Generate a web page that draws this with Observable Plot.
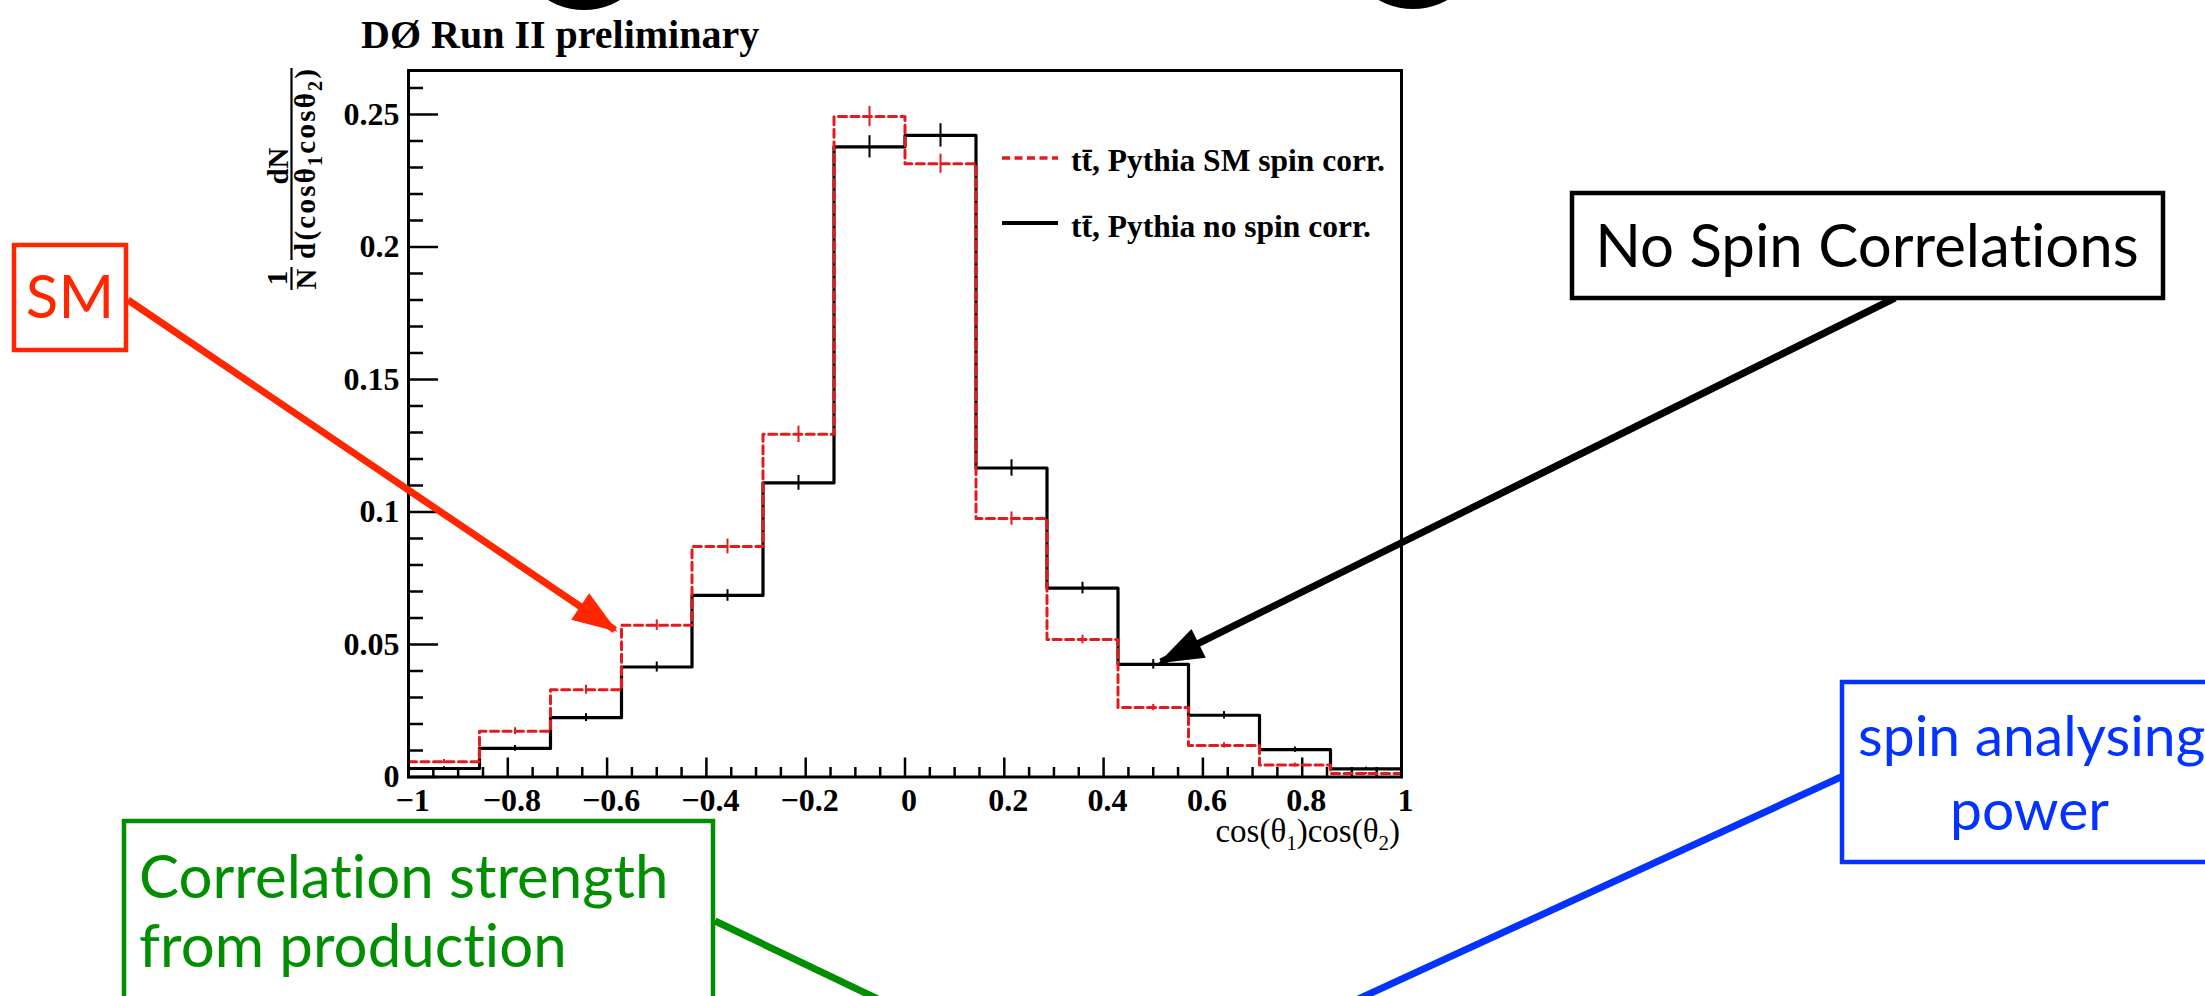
<!DOCTYPE html>
<html><head><meta charset="utf-8">
<script src="https://cdn.jsdelivr.net/npm/d3@7"></script>
<script src="https://cdn.jsdelivr.net/npm/@observablehq/plot@0.6"></script>
<style>
html,body{margin:0;padding:0;background:#fff;}
#wrap{position:relative;width:2205px;height:996px;overflow:hidden;background:#fff;}
#wrap > svg{position:absolute;left:0;top:0;}
text{font-variant-ligatures:none;font-feature-settings:"liga" 0, "clig" 0;}
</style></head><body><div id="wrap"></div>
<script>
// ---- data ----
const binEdges = [-1, -0.857, -0.714, -0.571, -0.429, -0.286, -0.143, 0, 0.143, 0.286, 0.429, 0.571, 0.714, 0.857, 1];
const smSpinCorr = [0.0058, 0.0173, 0.0329, 0.0573, 0.0870, 0.1293, 0.2492, 0.2314, 0.0975, 0.0519, 0.0262, 0.0119, 0.0045, 0.0013];
const noSpinCorr = [0.0032, 0.0108, 0.0224, 0.0415, 0.0685, 0.1110, 0.2378, 0.2421, 0.1166, 0.0713, 0.0425, 0.0233, 0.0103, 0.0031];
const smErr = [0.0008, 0.0013, 0.0017, 0.0020, 0.0028, 0.0031, 0.0038, 0.0036, 0.0025, 0.0016, 0.0012, 0.0010, 0.0007, 0.0004];
const noErr = [0.0007, 0.0011, 0.0015, 0.0019, 0.0022, 0.0028, 0.0042, 0.0044, 0.0031, 0.0022, 0.0018, 0.0014, 0.0010, 0.0006];
const xMajorTicks = [-1, -0.8, -0.6, -0.4, -0.2, 0, 0.2, 0.4, 0.6, 0.8, 1];
const xTickLabels = ["\u22121", "\u22120.8", "\u22120.6", "\u22120.4", "\u22120.2", "0", "0.2", "0.4", "0.6", "0.8", "1"];
const xMinorTicks = [-0.95,-0.9,-0.85,-0.75,-0.7,-0.65,-0.55,-0.5,-0.45,-0.35,-0.3,-0.25,-0.15,-0.1,-0.05,0.05,0.1,0.15,0.25,0.3,0.35,0.45,0.5,0.55,0.65,0.7,0.75,0.85,0.9,0.95];
const yMajorTicks = [0, 0.05, 0.1, 0.15, 0.2, 0.25];
const yTickLabels = ["0", "0.05", "0.1", "0.15", "0.2", "0.25"];
const yMinorTicks = [0.01,0.02,0.03,0.04,0.06,0.07,0.08,0.09,0.11,0.12,0.13,0.14,0.16,0.17,0.18,0.19,0.21,0.22,0.23,0.24,0.26];
const seriesLabels = ["t\u0074\u0304, Pythia SM spin corr.", "t\u0074\u0304, Pythia no spin corr."];
const titleText = "D\u00D8 Run II preliminary";
const annotations = {sm: "SM", none: "No Spin Correlations", prod: ["Correlation strength", "from production"], power: ["spin analysing", "power"]};

// ---- layout ----
const W = 2205, H = 996, mL = 408, mR = 804, mT = 70, mB = 219.5, yMax = 0.2666;
const plotW = W - mL - mR, plotH = H - mT - mB;
const yPerPx = yMax / plotH, xPerPx = 2 / plotW;
const RED = "#e41a1c";

const stepPts = vals => binEdges.map((e, i) => ({x: e, y: vals[Math.min(i, vals.length - 1)]}));
const centers = binEdges.slice(0, -1).map((e, i) => (e + binEdges[i + 1]) / 2);
const errRows = (vals, errs) => centers.map((c, i) => ({x: c, y1: vals[i] - errs[i], y2: vals[i] + errs[i]}));
const fmtX = d => xTickLabels[xMajorTicks.indexOf(d)];
const fmtY = d => yTickLabels[yMajorTicks.indexOf(d)];

const chart = Plot.plot({
  width: W, height: H, marginLeft: mL, marginRight: mR, marginTop: mT, marginBottom: mB,
  x: {domain: [-1, 1]},
  y: {domain: [0, yMax]},
  style: {fontFamily: "'Liberation Serif', 'Times New Roman', serif", background: "transparent", color: "black"},
  marks: [
    Plot.ruleX(xMajorTicks, {x: d => d, y1: 0, y2: 19 * yPerPx, stroke: "black", strokeWidth: 2.5}),
    Plot.ruleX(xMinorTicks, {x: d => d, y1: 0, y2: 9.5 * yPerPx, stroke: "black", strokeWidth: 2.5}),
    Plot.ruleY(yMajorTicks, {y: d => d, x1: -1, x2: -1 + 30 * xPerPx, stroke: "black", strokeWidth: 2.5}),
    Plot.ruleY(yMinorTicks, {y: d => d, x1: -1, x2: -1 + 15 * xPerPx, stroke: "black", strokeWidth: 2.5}),
    Plot.line(stepPts(noSpinCorr), {x: "x", y: "y", curve: "step-after", stroke: "black", strokeWidth: 3.2}),
    Plot.ruleX(errRows(noSpinCorr, noErr), {x: "x", y1: "y1", y2: "y2", stroke: "black", strokeWidth: 2}),
    Plot.line(stepPts(smSpinCorr), {x: "x", y: "y", curve: "step-after", stroke: RED, strokeWidth: 3, strokeDasharray: "8,4.5"}),
    Plot.ruleX(errRows(smSpinCorr, smErr), {x: "x", y1: "y1", y2: "y2", stroke: RED, strokeWidth: 2}),
    Plot.frame({stroke: "black", strokeWidth: 3}),
    Plot.axisX({ticks: xMajorTicks, tickFormat: fmtX, tickSize: 0, tickPadding: 11, dx: 4, fontSize: 32, fontWeight: "bold", label: null}),
    Plot.axisY({ticks: yMajorTicks, tickFormat: fmtY, tickSize: 0, tickPadding: 9, fontSize: 32, fontWeight: "bold", label: null})
  ]
});
document.getElementById("wrap").appendChild(chart);

// ---- overlay: title, axis titles, legend, annotations ----
const svg = d3.select("#wrap").append("svg").attr("width", W).attr("height", H).style("pointer-events", "none");
const SERIF = "'Liberation Serif', 'Times New Roman', serif";
const SANS = "Lato, 'Noto Sans', sans-serif";

// partial big slide title letters at top edge
svg.append("circle").attr("cx", 584).attr("cy", -60).attr("r", 70).attr("fill", "black");
svg.append("circle").attr("cx", 1413).attr("cy", -61).attr("r", 70).attr("fill", "black");

// plot title
svg.append("text").attr("x", 361).attr("y", 48).attr("font-family", SERIF).attr("font-weight", "bold")
  .attr("font-size", 40).text(titleText);

// y-axis title (rotated fractions)
const yl = svg.append("g").attr("font-family", SERIF).attr("font-weight", "bold").attr("font-size", 29);
yl.append("line").attr("x1", 291.5).attr("x2", 291.5).attr("y1", 68).attr("y2", 260).attr("stroke", "black").attr("stroke-width", 2.2);
yl.append("line").attr("x1", 291.5).attr("x2", 291.5).attr("y1", 267).attr("y2", 290).attr("stroke", "black").attr("stroke-width", 2.2);
yl.append("text").attr("transform", "translate(288,166) rotate(-90)").attr("text-anchor", "middle").text("dN");
yl.append("text").attr("transform", "translate(287,278) rotate(-90)").attr("text-anchor", "middle").text("1");
yl.append("text").attr("transform", "translate(316,279) rotate(-90)").attr("text-anchor", "middle").text("N");
const den = yl.append("text").attr("transform", "translate(315,164) rotate(-90)").attr("text-anchor", "middle")
  .attr("textLength", 190).attr("lengthAdjust", "spacing");
den.append("tspan").text("d(cos\u03B8");
den.append("tspan").attr("font-size", 20).attr("dy", 7).text("1");
den.append("tspan").attr("dy", -7).text("cos\u03B8");
den.append("tspan").attr("font-size", 20).attr("dy", 7).text("2");
den.append("tspan").attr("dy", -7).text(")");

// x-axis title
const xl = svg.append("text").attr("x", 1400).attr("y", 842).attr("text-anchor", "end")
  .attr("font-family", SERIF).attr("font-size", 33);
xl.append("tspan").text("cos(\u03B8");
xl.append("tspan").attr("font-size", 21).attr("dy", 8).text("1");
xl.append("tspan").attr("dy", -8).text(")cos(\u03B8");
xl.append("tspan").attr("font-size", 21).attr("dy", 8).text("2");
xl.append("tspan").attr("dy", -8).text(")");

// legend
svg.append("line").attr("x1", 1002).attr("x2", 1058).attr("y1", 158).attr("y2", 158)
  .attr("stroke", RED).attr("stroke-width", 3.5).attr("stroke-dasharray", "8,4.5");
svg.append("line").attr("x1", 1002).attr("x2", 1058).attr("y1", 223).attr("y2", 223)
  .attr("stroke", "black").attr("stroke-width", 4.2);
svg.append("text").attr("x", 1071).attr("y", 171).attr("font-family", SERIF).attr("font-weight", "bold")
  .attr("font-size", 31.5).text(seriesLabels[0]);
svg.append("text").attr("x", 1071).attr("y", 237).attr("font-family", SERIF).attr("font-weight", "bold")
  .attr("font-size", 31.5).text(seriesLabels[1]);

// annotation helpers
function arrow(x1, y1, x2, y2, color, head) {
  svg.append("line").attr("x1", x1).attr("y1", y1).attr("x2", x2).attr("y2", y2)
    .attr("stroke", color).attr("stroke-width", 7);
  if (head) {
    const dx = x2 - x1, dy = y2 - y1, L = Math.hypot(dx, dy), ux = dx / L, uy = dy / L;
    const hl = 42, hw = 16;
    const bx = x2 - ux * hl, by = y2 - uy * hl;
    svg.append("polygon").attr("fill", color)
      .attr("points", `${x2 + ux * 3},${y2 + uy * 3} ${bx - uy * hw},${by + ux * hw} ${bx + uy * hw},${by - ux * hw}`);
  }
}
function box(x, y, w, h, color) {
  svg.append("rect").attr("x", x).attr("y", y).attr("width", w).attr("height", h)
    .attr("fill", "white").attr("stroke", color).attr("stroke-width", 4.5);
}
function label(x, y, str, color, anchor, size) {
  svg.append("text").attr("x", x).attr("y", y).attr("font-family", SANS).attr("font-size", size || 60)
    .attr("fill", color).attr("text-anchor", anchor || "start").text(str);
}

// SM (red)
arrow(128, 300, 615, 630, "#ff2600", true);
box(14, 245, 112, 105, "#ff2600");
label(70, 318, annotations.sm, "#ff2600", "middle");

// No spin correlations (black)
arrow(1895, 298, 1161, 662, "black", true);
box(1572, 193, 591, 105, "black");
label(1867, 267, annotations.none, "black", "middle");

// Correlation strength (green)
arrow(715, 921, 905, 1012, "#008f00", false);
box(124, 821, 589, 200, "#008f00");
label(139, 898, annotations.prod[0], "#008f00");
label(139, 967, annotations.prod[1], "#008f00");

// spin analysing power (blue)
arrow(1841, 777, 1330, 1012, "#0433ff", false);
box(1842, 682, 400, 180, "#0433ff");
label(1858, 756, annotations.power[0], "#0433ff", "start", 57);
label(1950, 830, annotations.power[1], "#0433ff", "start", 57);
</script></body></html>
